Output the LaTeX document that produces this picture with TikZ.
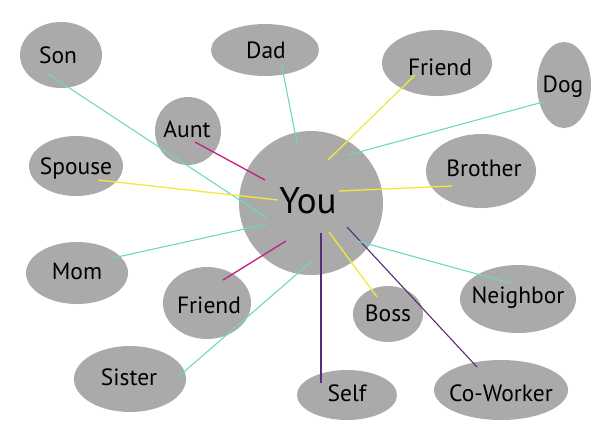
\documentclass[tikz,border=0pt]{standalone}
\usepackage{fontspec}
\setmainfont{PT Sans}
\usetikzlibrary{shapes.geometric}
\definecolor{bub}{RGB}{170,170,170}
\definecolor{tealc}{RGB}{107,217,192}
\definecolor{magc}{RGB}{194,31,130}
\definecolor{yelc}{RGB}{242,234,58}
\definecolor{purc}{RGB}{91,42,118}
\tikzset{
  bubble/.style={ellipse, fill=bub, inner sep=0pt},
  lbl/.style={font=\fontsize{23.5}{26}\selectfont, inner sep=0pt},
  tl/.style={draw=tealc, line width=1.1pt},
  ml/.style={draw=magc, line width=1.3pt},
  yl/.style={draw=yelc, line width=1.3pt},
  pl/.style={draw=purc, line width=1.1pt},
}
\begin{document}
\begin{tikzpicture}[x=1pt,y=-1pt]
\useasboundingbox (0,0) rectangle (602,432);
% bubbles
\node[bubble, minimum width=82pt, minimum height=66pt] (son) at (61,55) {};
\node[bubble, minimum width=108pt, minimum height=52pt] (dad) at (265,50) {};
\node[bubble, minimum width=66pt, minimum height=68pt] (aunt) at (188,131) {};
\node[bubble, minimum width=94pt, minimum height=60pt] (spouse) at (76,166) {};
\node[circle, fill=bub, minimum size=144pt, inner sep=0pt] (you) at (311,203) {};
\node[bubble, minimum width=110pt, minimum height=66pt] (friendA) at (437,63) {};
\node[bubble, minimum width=54pt, minimum height=86pt] (dog) at (564,85) {};
\node[bubble, minimum width=110pt, minimum height=74pt] (brother) at (481,171) {};
\node[bubble, minimum width=102pt, minimum height=62pt] (mom) at (77,273) {};
\node[bubble, minimum width=88pt, minimum height=72pt] (friendB) at (207,303) {};
\node[bubble, minimum width=112pt, minimum height=66pt] (sister) at (130,379) {};
\node[bubble, minimum width=70pt, minimum height=56pt] (boss) at (388,314) {};
\node[bubble, minimum width=116pt, minimum height=68pt] (neighbor) at (518,299) {};
\node[bubble, minimum width=100pt, minimum height=50pt] (self) at (347,395) {};
\node[bubble, minimum width=134pt, minimum height=60pt] (cow) at (501,390) {};
% labels
\node[lbl] (tson) at (58,55) {Son};
\node[lbl] (tdad) at (266,50) {Dad};
\node[lbl] (taunt) at (187,129) {Aunt};
\node[lbl] (tspouse) at (76,168) {Spouse};
\node[lbl, font=\fontsize{37}{40}\selectfont] (tyou) at (308,201) {You};
\node[lbl] (tfriendA) at (440,67) {Friend};
\node[lbl] (tdog) at (563,87) {Dog};
\node[lbl] (tbrother) at (484,168) {Brother};
\node[lbl] (tmom) at (77,271) {Mom};
\node[lbl] (tfriendB) at (209,305) {Friend};
\node[lbl] (tsister) at (129,377) {Sister};
\node[lbl] (tboss) at (388,313) {Boss};
\node[lbl] (tneighbor) at (518,298) {Neighbor};
\node[lbl] (tself) at (347,393) {Self};
\node[lbl] (tcow) at (501,393) {Co-Worker};
% connector end points
\coordinate (cSon) at (48,74);   \coordinate (ySon) at (267,218);
\coordinate (cDad) at (282,67);  \coordinate (yDad) at (297,143);
\coordinate (cAunt) at (195,142); \coordinate (yAunt) at (265,180);
\coordinate (cSpouse) at (98,180); \coordinate (ySpouse) at (278,200);
\coordinate (cFriendA) at (415,75); \coordinate (yFriendA) at (328,160);
\coordinate (cDog) at (543,102); \coordinate (yDog) at (348,155);
\coordinate (cBrother) at (452,186); \coordinate (yBrother) at (339,191);
\coordinate (cMom) at (113,258); \coordinate (yMom) at (267,224);
\coordinate (cFriendB) at (223,280); \coordinate (yFriendB) at (286,241);
\coordinate (cSister) at (178,377); \coordinate (ySister) at (312,261);
\coordinate (cSelf) at (321,383); \coordinate (ySelf) at (321,233);
\coordinate (cBoss) at (377,297); \coordinate (yBoss) at (329,232);
\coordinate (cCow) at (477,367); \coordinate (yCow) at (347,227);
\coordinate (cNeighbor) at (510,283); \coordinate (yNeighbor) at (357,241);
% connectors
\draw[tl] (cSon) -- (ySon);
\draw[tl] (cDad) -- (yDad);
\draw[ml] (cAunt) -- (yAunt);
\draw[yl] (cSpouse) -- (ySpouse);
\draw[yl] (cFriendA) -- (yFriendA);
\draw[tl] (cDog) -- (yDog);
\draw[yl] (cBrother) -- (yBrother);
\draw[tl] (cMom) -- (yMom);
\draw[ml] (cFriendB) -- (yFriendB);
\draw[tl] (cSister) -- (ySister);
\draw[pl] (cSelf) -- (ySelf);
\draw[yl] (cBoss) -- (yBoss);
\draw[pl] (cCow) -- (yCow);
\draw[tl] (cNeighbor) -- (yNeighbor);
\end{tikzpicture}
\end{document}
